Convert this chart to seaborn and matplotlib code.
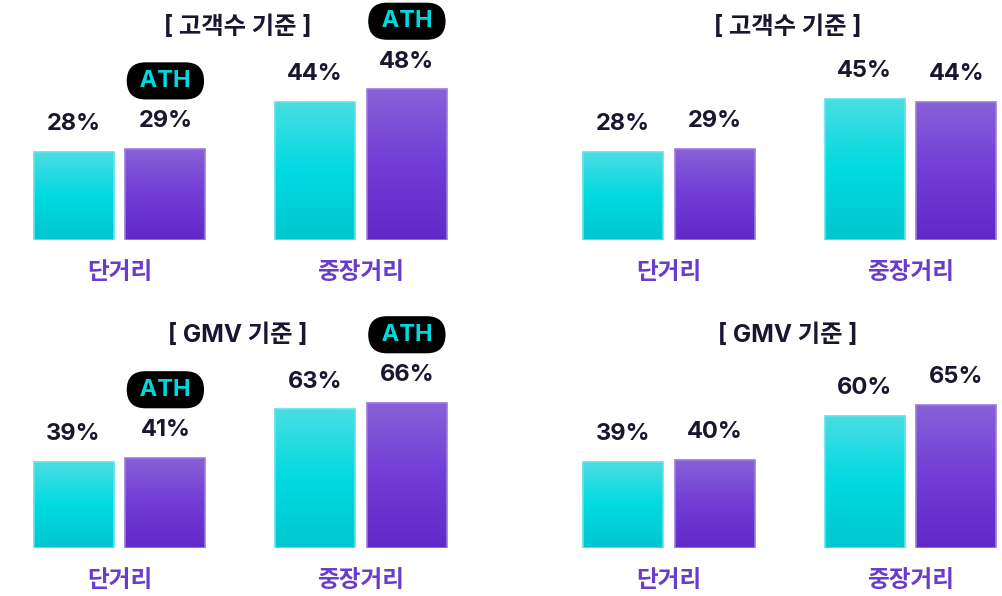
import numpy as np
import pandas as pd
import matplotlib.pyplot as plt
import seaborn as sns
from matplotlib.colors import LinearSegmentedColormap

# -----------------------------
# data
# -----------------------------
groups = ['단거리', '중장거리']
series = ['기존', '최근']

cust_title = '[ 고객수 기준 ]'
gmv_title = '[ GMV 기준 ]'

cust_left_cyan = [28, 44]
cust_left_purple = [29, 48]
cust_left_ath = [True, True]

cust_right_cyan = [28, 45]
cust_right_purple = [29, 44]
cust_right_ath = [False, False]

gmv_left_cyan = [39, 63]
gmv_left_purple = [41, 66]
gmv_left_ath = [True, True]

gmv_right_cyan = [39, 60]
gmv_right_purple = [40, 65]
gmv_right_ath = [False, False]

# -----------------------------
# style
# -----------------------------
sns.set_theme(style='white')
plt.rcParams['font.family'] = ['Inter', 'Noto Sans CJK KR', 'DejaVu Sans']

dark = '#1b1530'
label_purple = '#6a3ccb'
cyan_mid = '#00d8e0'
purple_mid = '#7040d6'
cyan_cmap = LinearSegmentedColormap.from_list('cy', ['#00c6cf', '#00dae2', '#4adde2'])
purple_cmap = LinearSegmentedColormap.from_list('pu', ['#6128c8', '#723cd6', '#8762d8'])
edge_colors = ['#5fe3e8', '#9b7ae0']

W, H = 1003, 596
fig = plt.figure(figsize=(W / 100, H / 100), dpi=100)


def px_axes(left, top, width, height):
    return fig.add_axes([left / W, 1 - (top + height) / H, width / W, height / H])


def draw_panel(ax, title, cyan, purple, ath, ymax):
    df = pd.DataFrame({
        '구분': groups * 2,
        '시리즈': [series[0]] * 2 + [series[1]] * 2,
        '비중': cyan + purple,
    })
    sns.barplot(data=df, x='구분', y='비중', hue='시리즈',
                palette=[cyan_mid, purple_mid], saturation=1,
                width=0.76, gap=0.13, errorbar=None, legend=False, ax=ax)

    grad = np.linspace(0, 1, 256).reshape(-1, 1)
    for i, (cont, cm) in enumerate(zip(ax.containers, [cyan_cmap, purple_cmap])):
        for j, (bar, val) in enumerate(zip(cont, cont.datavalues)):
            x0 = bar.get_x()
            w = bar.get_width()
            h = bar.get_height()
            im = ax.imshow(grad, cmap=cm, extent=[x0, x0 + w, 0, h],
                           origin='lower', aspect='auto', zorder=2)
            im.set_clip_path(bar)
            bar.set_facecolor('none')
            bar.set_edgecolor(edge_colors[i])
            bar.set_linewidth(1.2)
            bar.set_zorder(3)

            ax.annotate(f'{val:.0f}%', (x0 + w / 2, h), xytext=(0, 20),
                        textcoords='offset points', ha='center', va='center',
                        fontsize=17, fontweight='bold', color=dark)
            if i == 1 and ath[j]:
                ax.annotate(' ATH ', (x0 + w / 2, h), xytext=(0, 49),
                            textcoords='offset points', ha='center', va='center',
                            fontsize=17, fontweight='bold', color='#00d8e0',
                            bbox=dict(boxstyle='round,pad=0.32,rounding_size=0.8',
                                      fc='black', ec='none'))

    ax.set_xlim(-0.5, 1.5)
    ax.set_ylim(0, ymax)
    ax.set_xlabel('')
    ax.set_ylabel('')
    ax.set_yticks([])
    sns.despine(ax=ax, left=True, bottom=True)
    ax.tick_params(axis='x', length=0, pad=16, labelsize=17, labelcolor=label_purple)
    for lab in ax.get_xticklabels():
        lab.set_fontweight('bold')

    ax.text(0.49, 1 - 27 / 240, title, transform=ax.get_xaxis_transform(),
            ha='center', va='center', fontsize=17.5, fontweight='bold', color=dark)


top_ymax = 240 / 3.14
bot_ymax = 240 / 2.2

ax1 = px_axes(-1.25, 0, 483, 240)
draw_panel(ax1, cust_title, cust_left_cyan, cust_left_purple, cust_left_ath, top_ymax)
ax2 = px_axes(548.25, 0, 483, 240)
draw_panel(ax2, cust_title, cust_right_cyan, cust_right_purple, cust_right_ath, top_ymax)
ax3 = px_axes(-1.25, 308, 483, 240)
draw_panel(ax3, gmv_title, gmv_left_cyan, gmv_left_purple, gmv_left_ath, bot_ymax)
ax4 = px_axes(548.25, 308, 483, 240)
draw_panel(ax4, gmv_title, gmv_right_cyan, gmv_right_purple, gmv_right_ath, bot_ymax)

fig.savefig('out.png', dpi=100)
